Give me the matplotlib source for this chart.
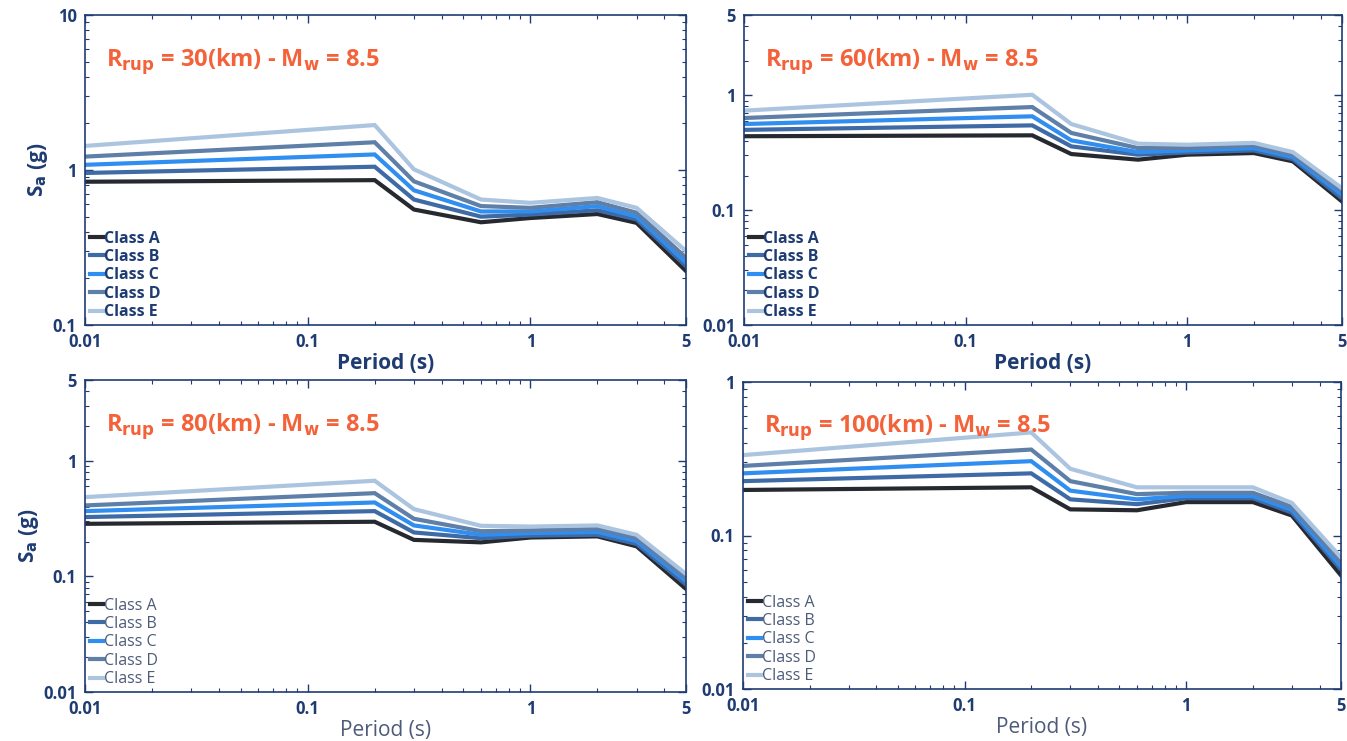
import numpy as np
import matplotlib
matplotlib.use('Agg')
from matplotlib import pyplot as plt
from matplotlib.ticker import FixedLocator, LogLocator, NullFormatter

plt.rcParams['font.family'] = ['Open Sans', 'DejaVu Sans']
plt.rcParams['mathtext.fontset'] = 'dejavusans'

# data
periods = [0.01, 0.2, 0.3, 0.6, 1, 2, 3, 5]
classes = ['Class A', 'Class B', 'Class C', 'Class D', 'Class E']
distances = [30, 60, 80, 100]

# rows: Class A..E
sa_r30 = [
    [0.84, 0.86, 0.556, 0.46, 0.49, 0.52, 0.456, 0.223],
    [0.957, 1.05, 0.645, 0.50, 0.516, 0.55, 0.48, 0.24],
    [1.08, 1.26, 0.74, 0.54, 0.54, 0.585, 0.50, 0.253],
    [1.22, 1.51, 0.845, 0.585, 0.57, 0.62, 0.53, 0.272],
    [1.43, 1.95, 1.01, 0.645, 0.614, 0.66, 0.57, 0.30],
]
sa_r60 = [
    [0.44, 0.448, 0.308, 0.275, 0.304, 0.314, 0.266, 0.119],
    [0.50, 0.547, 0.359, 0.304, 0.318, 0.331, 0.278, 0.127],
    [0.562, 0.656, 0.405, 0.32, 0.331, 0.347, 0.29, 0.136],
    [0.634, 0.79, 0.47, 0.347, 0.347, 0.366, 0.304, 0.146],
    [0.735, 1.01, 0.562, 0.379, 0.371, 0.385, 0.32, 0.155],
]
sa_r80 = [
    [0.285, 0.297, 0.207, 0.197, 0.217, 0.222, 0.182, 0.078],
    [0.326, 0.367, 0.24, 0.214, 0.225, 0.229, 0.191, 0.085],
    [0.367, 0.436, 0.276, 0.229, 0.237, 0.242, 0.202, 0.091],
    [0.411, 0.525, 0.315, 0.246, 0.25, 0.258, 0.214, 0.097],
    [0.485, 0.672, 0.382, 0.274, 0.27, 0.276, 0.229, 0.105],
]
sa_r100 = [
    [0.198, 0.206, 0.148, 0.146, 0.165, 0.165, 0.135, 0.055],
    [0.226, 0.254, 0.172, 0.16, 0.175, 0.175, 0.141, 0.06],
    [0.254, 0.305, 0.196, 0.172, 0.181, 0.181, 0.147, 0.063],
    [0.284, 0.363, 0.226, 0.186, 0.19, 0.19, 0.154, 0.067],
    [0.334, 0.469, 0.272, 0.206, 0.206, 0.206, 0.163, 0.072],
]
all_sa = [sa_r30, sa_r60, sa_r80, sa_r100]

ylims = [(0.1, 10), (0.01, 5), (0.01, 5), (0.01, 1)]
yticks = [[0.1, 1, 10], [0.01, 0.1, 1, 5], [0.01, 0.1, 1, 5], [0.01, 0.1, 1]]
xticks = [0.01, 0.1, 1, 5]

colors = ['#26292f', '#3e6aa6', '#2f8ef0', '#5e7fa8', '#abc4df']
navy = '#1f3c72'
grey = '#4d5b78'
orange = '#f4623a'

W, H = 1347, 741
# axes boxes in pixels: left, right, top, bottom
boxes = [(85, 686, 15, 325), (744, 1342, 15, 325),
         (85, 686, 380, 692), (743, 1341, 382, 689)]

fig = plt.figure(figsize=(W / 100, H / 100), dpi=100)

for i in range(4):
    l, r, t, b = boxes[i]
    ax = fig.add_axes([l / W, 1 - b / H, (r - l) / W, (b - t) / H])
    for k in range(5):
        ax.plot(periods, all_sa[i][k], color=colors[k], lw=3, label=classes[k],
                solid_joinstyle='miter')
    ax.set_xscale('log')
    ax.set_yscale('log')
    ax.set_xlim(0.01, 5)
    ax.set_ylim(*ylims[i])

    ax.xaxis.set_major_locator(FixedLocator(xticks))
    ax.set_xticklabels([str(x) for x in xticks])
    ax.yaxis.set_major_locator(FixedLocator(yticks[i]))
    ax.set_yticklabels([('%g' % y) for y in yticks[i]])
    ax.xaxis.set_minor_locator(LogLocator(base=10, subs=np.arange(2, 10)))
    ax.yaxis.set_minor_locator(LogLocator(base=10, subs=np.arange(2, 10)))
    ax.xaxis.set_minor_formatter(NullFormatter())
    ax.yaxis.set_minor_formatter(NullFormatter())

    ax.tick_params(which='both', direction='in', top=True, right=True,
                   color=navy, labelcolor=navy)
    ax.tick_params(which='major', length=6, width=1, labelsize=12, pad=6)
    ax.tick_params(which='minor', length=3, width=0.8)
    for lab in ax.get_xticklabels() + ax.get_yticklabels():
        lab.set_fontweight('bold')
    for sp in ax.spines.values():
        sp.set_color(navy)
        sp.set_linewidth(1.2)

    top_row = i < 2
    txt_col = navy if top_row else grey
    txt_w = 'bold' if top_row else 'normal'

    ax.set_xlabel('Period (s)', fontsize=15, fontweight=txt_w, color=txt_col,
                  labelpad=1)
    if i % 2 == 0:
        ax.set_ylabel(r'S$_{\mathbf{a}}$ (g)', fontsize=15, fontweight='bold',
                      color=navy, labelpad=2)

    ax.text(0.035, 0.90, r'R$_{\mathbf{rup}}$ = %d(km) - M$_{\mathbf{w}}$ = 8.5' % distances[i],
            transform=ax.transAxes, fontsize=17, fontweight='bold', color=orange,
            va='top', ha='left')

    leg = ax.legend(loc='lower left', frameon=False, handlelength=0.8,
                    handletextpad=0.1, labelspacing=0.15, borderaxespad=0.1,
                    borderpad=0.2, prop={'weight': txt_w, 'size': 11.5})
    for txt in leg.get_texts():
        txt.set_color(txt_col)

fig.savefig('out.png', dpi=100)
